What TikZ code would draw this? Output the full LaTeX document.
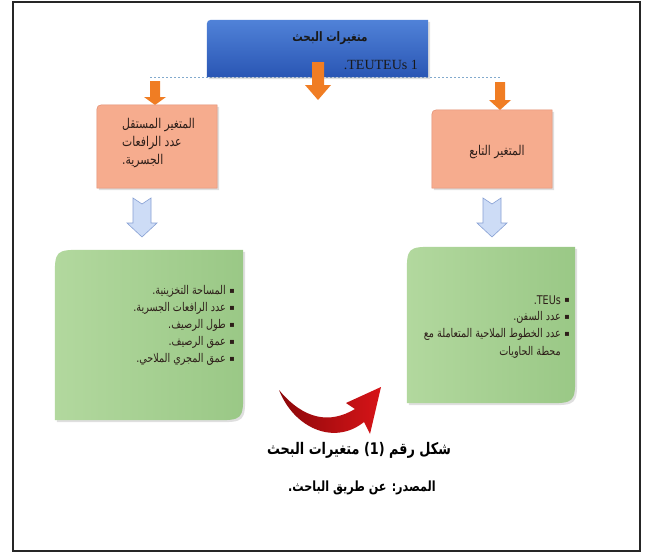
\documentclass[tikz,border=0pt]{standalone}
\usepackage{fontspec}
\setmainfont{Liberation Serif}
\newfontfamily\arabicfont[Script=Arabic]{DejaVu Sans}
\newfontfamily\arabicnarrow[Script=Arabic,FakeStretch=0.8]{DejaVu Sans}
\newfontfamily\symfont{DejaVu Sans}
\TeXXeTstate=1
\usetikzlibrary{shadows,calc}
\definecolor{bluetop}{RGB}{80,130,216}
\definecolor{bluebot}{RGB}{42,86,180}
\definecolor{salmon}{RGB}{246,172,142}
\definecolor{salmonedge}{RGB}{226,140,112}
\definecolor{greenL}{RGB}{178,216,158}
\definecolor{greenR}{RGB}{154,200,134}
\definecolor{orng}{RGB}{240,125,35}
\definecolor{lblue}{RGB}{205,220,246}
\definecolor{lblueedge}{RGB}{135,160,212}
\definecolor{redarrow}{RGB}{215,20,24}
\definecolor{darkred}{RGB}{140,8,10}
\definecolor{dotline}{RGB}{130,170,205}
\definecolor{txt}{RGB}{45,30,25}
\newcommand\RL[1]{\beginR #1\endR}
\tikzset{
  box/.style={inner sep=0pt, draw=none},
  tlshape/.style 2 args={insert path={(#1.south west) -- ([yshift=-#2]#1.north west) .. controls (#1.north west) .. ([xshift=#2]#1.north west) -- (#1.north east) -- (#1.south east) -- cycle}},
  diagshape/.style 2 args={insert path={([yshift=-#2]#1.north west) .. controls (#1.north west) .. ([xshift=#2]#1.north west) -- (#1.north east) -- ([yshift=#2]#1.south east) .. controls (#1.south east) .. ([xshift=-#2]#1.south east) -- (#1.south west) -- cycle}},
  shad/.style={drop shadow={shadow xshift=2pt, shadow yshift=-2pt, opacity=0.25}},
  boxtxt/.style={inner sep=0pt, text=txt, font=\arabicnarrow\fontsize{13.5}{15}\selectfont},
  itemtxt/.style={inner sep=0pt, text=txt, font=\arabicnarrow\fontsize{12}{13}\selectfont},
  bul/.style={inner sep=0pt, text=txt, font=\symfont\fontsize{8}{9}\selectfont},
  captxt/.style={inner sep=0pt, text=black, font=\arabicnarrow\bfseries\fontsize{#1}{18}\selectfont},
  orangearrow/.style={fill=orng},
  bluearrow/.style={fill=lblue, draw=lblueedge, line width=0.6pt},
}
\begin{document}
\begin{tikzpicture}[x=1pt,y=-1pt]
\useasboundingbox (0,0) rectangle (649,554);
\fill[white] (0,0) rectangle (649,554);
% outer frame
\draw[line width=2.4pt, black!85] (13,2) rectangle (640,551);

% dotted connector line
\coordinate (dL) at (150,77);
\coordinate (dR) at (500,77);
\draw[dotline, line width=0.9pt, dash pattern=on 2pt off 2pt] (dL) -- (dR);

% top blue box
\node[box, minimum width=221pt, minimum height=57pt] (TOP) at (317.5,48.5) {};
\shade[top color=bluetop, bottom color=bluebot, shad, tlshape={TOP}{9pt}];
\node[inner sep=0pt, text=black!90, font=\arabicnarrow\bfseries\fontsize{13}{15}\selectfont] (title) at (330,38) {\RL{متغيرات البحث}};
\node[inner sep=0pt, anchor=east, text=black!90, font=\fontsize{14}{16}\selectfont] (teu) at (418,65) {\RL{\beginL TEUTEUs 1\endL.}};

% orange arrows
\fill[orangearrow] (312,62) -- (324,62) -- (324,85) -- (331,85) -- (318,100) -- (305,85) -- (312,85) -- cycle;
\fill[orangearrow] (150,81) -- (160,81) -- (160,97) -- (166,97) -- (155,105) -- (144,97) -- (150,97) -- cycle;
\fill[orangearrow] (495,82) -- (505,82) -- (505,100) -- (511,100) -- (500,110) -- (489,100) -- (495,100) -- cycle;

% salmon boxes
\node[box, minimum width=120pt, minimum height=83pt] (SL) at (157,146.5) {};
\filldraw[fill=salmon, draw=salmonedge, line width=0.5pt, shad, tlshape={SL}{10pt}];
\node[boxtxt, anchor=west] (sl1) at (122,125) {\RL{المتغير المستقل}};
\node[boxtxt, anchor=west] (sl2) at (122,143) {\RL{عدد الرافعات}};
\node[boxtxt, anchor=west] (sl3) at (122,161) {\RL{الجسرية.}};

\node[box, minimum width=120pt, minimum height=78pt] (SR) at (492,149) {};
\filldraw[fill=salmon, draw=salmonedge, line width=0.5pt, shad, tlshape={SR}{10pt}];
\node[boxtxt] (sr1) at (497,152) {\RL{المتغير التابع}};

% blue hollow arrows
\filldraw[bluearrow] (133,198) -- (142,204) -- (151,198) -- (151,223) -- (157,223) -- (142,237) -- (127,223) -- (133,223) -- cycle;
\filldraw[bluearrow] (483,198) -- (492,204) -- (501,198) -- (501,223) -- (507,223) -- (492,237) -- (477,223) -- (483,223) -- cycle;

% green boxes
\node[box, minimum width=188pt, minimum height=170pt] (GL) at (149,335) {};
\shade[left color=greenL, right color=greenR, shad, diagshape={GL}{30pt}];
\node[box, minimum width=168pt, minimum height=156pt] (GR) at (491,325) {};
\shade[left color=greenL, right color=greenR, shad, diagshape={GR}{30pt}];

% left list
\foreach \y in {291,308,325,342,359} \node[bul] at (232,\y) {▪};
\node[itemtxt, anchor=east] (l1) at (226,291) {\RL{المساحة التخزينية.}};
\node[itemtxt, anchor=east] (l2) at (226,308) {\RL{عدد الرافعات الجسرية.}};
\node[itemtxt, anchor=east] (l3) at (226,325) {\RL{طول الرصيف.}};
\node[itemtxt, anchor=east] (l4) at (226,342) {\RL{عمق الرصيف.}};
\node[itemtxt, anchor=east] (l5) at (226,359) {\RL{عمق المجري الملاحي.}};

% right list
\foreach \y in {300,317,334} \node[bul] at (567,\y) {▪};
\node[itemtxt, anchor=east] (r1) at (561,300) {\RL{\beginL TEUs\endL.}};
\node[itemtxt, anchor=east] (r2) at (561,317) {\RL{عدد السفن.}};
\node[itemtxt, anchor=east] (r3) at (561,334) {\RL{عدد الخطوط الملاحية المتعاملة مع}};
\node[itemtxt, anchor=east] (r4) at (561,352) {\RL{محطة الحاويات}};

% red curved arrow
\shade[left color=darkred, right color=redarrow]
  (279,390) .. controls (294,428) and (334,446) .. (364,422)
  -- (370,434) -- (381,387) -- (346,403) -- (355,409)
  .. controls (330,424) and (304,420) .. (279,390) -- cycle;

% caption
\node[captxt=16] (cap1) at (359,450) {\RL{شكل رقم (1) متغيرات البحث}};
\node[captxt=14] (cap2) at (362,488) {\RL{المصدر: عن طريق الباحث.}};
\end{tikzpicture}
\end{document}
